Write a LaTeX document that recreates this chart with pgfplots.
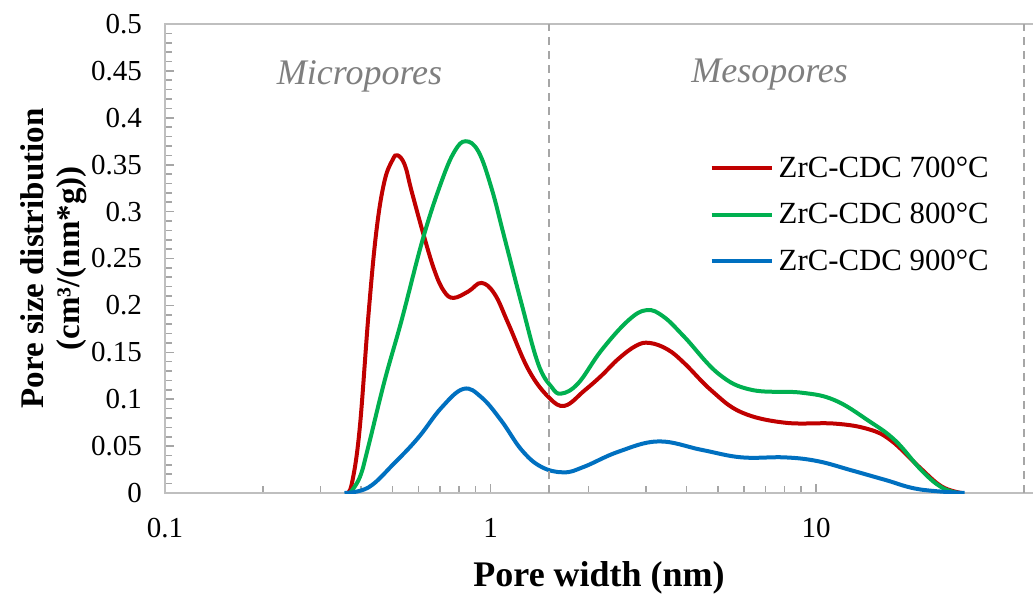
\documentclass[border=0pt]{standalone}
\usepackage{fontspec}
\setmainfont{Liberation Serif}
\usepackage{pgfplots}
\pgfplotsset{compat=1.18}
\definecolor{cred}{HTML}{C00000}
\definecolor{cgreen}{HTML}{00B050}
\definecolor{cblue}{HTML}{0070C0}
\definecolor{axgray}{HTML}{BFBFBF}
\definecolor{tkgray}{HTML}{A6A6A6}
\definecolor{txtgray}{HTML}{7F7F7F}
\begin{document}
\begin{tikzpicture}
\begin{axis}[
  name=ax,
  scale only axis,
  width=439.3pt, height=234.5pt,
  xmode=log,
  xmin=0.1, xmax=50,
  ymin=0, ymax=0.5,
  axis line style={axgray, line width=0.8pt},
  xtick={0.1,1,10},
  xticklabels={0.1,1,10},
  ytick={0,0.05,0.1,0.15,0.2,0.25,0.3,0.35,0.4,0.45,0.5},
  yticklabels={0,0.05,0.1,0.15,0.2,0.25,0.3,0.35,0.4,0.45,0.5},
  minor ytick={0.01,0.02,0.03,0.04,0.06,0.07,0.08,0.09,0.11,0.12,0.13,0.14,0.16,0.17,0.18,0.19,0.21,0.22,0.23,0.24,0.26,0.27,0.28,0.29,0.31,0.32,0.33,0.34,0.36,0.37,0.38,0.39,0.41,0.42,0.43,0.44,0.46,0.47,0.48,0.49},
  ytick pos=left, xtick pos=bottom,
  tick align=inside,
  yticklabel style={xshift=-8pt},
  xticklabel style={yshift=-9pt},
  major tick style={tkgray, line width=0.8pt},
  minor tick style={tkgray, line width=0.8pt},
  major tick length=4.5pt,
  minor tick length=3.3pt,
  tick label style={font=\fontsize{14.5}{16}\selectfont, black},
  xlabel={\textbf{Pore width (nm)}},
  xlabel style={font=\fontsize{18}{20}\selectfont, yshift=-5pt, xshift=-2.6pt},
  ylabel={\textbf{Pore size distribution}\\\textbf{(cm³/(nm*g))}},
  ylabel style={font=\fontsize{16.5}{18}\selectfont, align=center, yshift=-4.5pt},
  legend style={draw=none, fill=none, at={(axis cs:4.70,0.3675)}, anchor=north west,
    font=\fontsize{15.4}{18}\selectfont, row sep=7.5pt, inner xsep=0pt,
    nodes={inner xsep=2.5pt}},
  legend cell align=left,
  legend image code/.code={\draw[#1, line width=2pt] (0pt,0pt) -- (30pt,0pt);},
]
\addplot[cred, line width=2pt, smooth, tension=0.65] coordinates {
(0.362,0)(0.375,0.01)(0.396,0.067)(0.422,0.191)(0.446,0.279)(0.472,0.332)(0.50,0.355)(0.518,0.36)(0.545,0.35)(0.572,0.322)(0.622,0.276)(0.673,0.237)(0.72,0.215)(0.77,0.208)(0.856,0.215)(0.938,0.224)(1.03,0.212)(1.136,0.180)(1.31,0.131)(1.51,0.102)(1.69,0.093)(1.94,0.109)(2.19,0.125)(2.47,0.143)(2.8,0.157)(3.08,0.160)(3.5,0.153)(3.95,0.138)(4.78,0.109)(5.9,0.086)(8.0,0.075)(11.4,0.074)(14.5,0.068)(17.0,0.056)(20.7,0.028)(24.3,0.007)(28.0,0)
};
\addlegendentry{ZrC-CDC 700°C}
\addplot[cgreen, line width=2pt, smooth, tension=0.65] coordinates {
(0.37,0)(0.397,0.017)(0.421,0.049)(0.473,0.12)(0.533,0.184)(0.621,0.272)(0.707,0.332)(0.775,0.364)(0.838,0.375)(0.918,0.364)(1.007,0.325)(1.104,0.272)(1.245,0.202)(1.40,0.138)(1.54,0.113)(1.65,0.106)(1.86,0.117)(2.19,0.152)(2.65,0.184)(3.02,0.195)(3.4,0.188)(3.95,0.166)(5.02,0.127)(6.33,0.110)(9.0,0.107)(11.4,0.099)(14.5,0.077)(17.5,0.056)(21.1,0.024)(24.3,0.006)(27.4,0)
};
\addlegendentry{ZrC-CDC 800°C}
\addplot[cblue, line width=2pt, smooth, tension=0.65] coordinates {
(0.356,0)(0.422,0.006)(0.507,0.032)(0.60,0.059)(0.707,0.091)(0.826,0.111)(0.938,0.102)(1.08,0.077)(1.245,0.046)(1.43,0.028)(1.68,0.022)(1.94,0.028)(2.47,0.044)(3.28,0.055)(4.45,0.046)(5.9,0.038)(8.0,0.038)(10.1,0.034)(12.9,0.024)(16.3,0.014)(20.7,0.004)(28.6,0)
};
\addlegendentry{ZrC-CDC 900°C}
\draw[black!35, line width=0.8pt, dash pattern=on 4pt off 3pt] (axis cs:1.51,0) -- (axis cs:1.51,0.5);
\draw[black!35, line width=0.8pt, dash pattern=on 4pt off 3pt] (axis cs:43.5,0) -- (axis cs:43.5,0.5);
\node[txtgray, font=\fontsize{18}{20}\selectfont\itshape] at (axis cs:0.396,0.444) {Micropores};
\node[txtgray, font=\fontsize{18}{20}\selectfont\itshape] at (axis cs:7.2,0.446) {Mesopores};
\end{axis}
\pgfresetboundingbox
\path (-82.5pt,-50.5pt) rectangle (434pt,246.5pt);
\end{tikzpicture}
\end{document}
